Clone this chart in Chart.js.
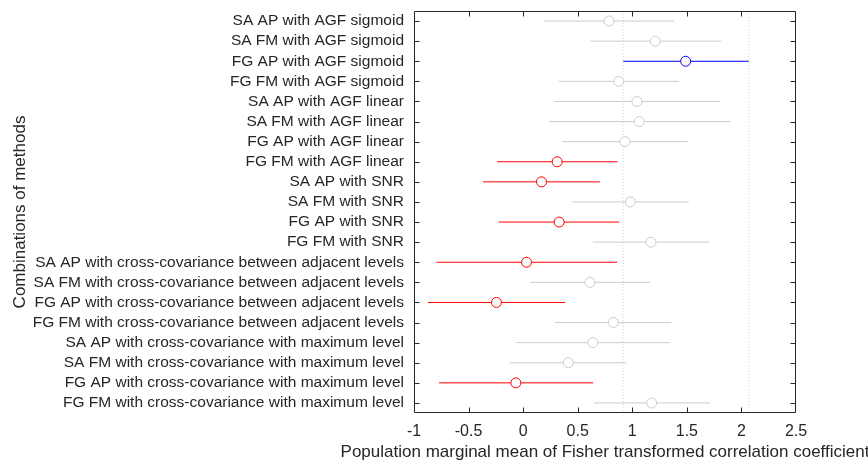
<!DOCTYPE html>
<html>
<head>
<meta charset="utf-8">
<script src="https://cdn.jsdelivr.net/npm/chart.js@4"></script>
<style>
  html, body { margin: 0; padding: 0; background: #ffffff; }
  #wrap { width: 868px; height: 464px; }
</style>
</head>
<body>
<div id="wrap"><canvas id="c" width="868" height="464"></canvas></div>
<script>
// Combinations of methods, top to bottom
const methods = [
  'SA AP with AGF sigmoid',
  'SA FM with AGF sigmoid',
  'FG AP with AGF sigmoid',
  'FG FM with AGF sigmoid',
  'SA AP with AGF linear',
  'SA FM with AGF linear',
  'FG AP with AGF linear',
  'FG FM with AGF linear',
  'SA AP with SNR',
  'SA FM with SNR',
  'FG AP with SNR',
  'FG FM with SNR',
  'SA AP with cross-covariance between adjacent levels',
  'SA FM with cross-covariance between adjacent levels',
  'FG AP with cross-covariance between adjacent levels',
  'FG FM with cross-covariance between adjacent levels',
  'SA AP with cross-covariance with maximum level',
  'SA FM with cross-covariance with maximum level',
  'FG AP with cross-covariance with maximum level',
  'FG FM with cross-covariance with maximum level'
];

// Population marginal means and comparison interval bounds
const means = [0.786, 1.211, 1.489, 0.875, 1.043, 1.064, 0.933, 0.312, 0.168, 0.982,
               0.330, 1.171, 0.031, 0.612, -0.245, 0.826, 0.639, 0.413, -0.067, 1.177];
const lower = [0.186, 0.615, 0.917, 0.324, 0.284, 0.239, 0.358, -0.239, -0.367, 0.450,
               -0.223, 0.639, -0.795, 0.064, -0.872, 0.290, -0.064, -0.125, -0.771, 0.645];
const upper = [1.385, 1.814, 2.067, 1.428, 1.807, 1.899, 1.508, 0.865, 0.703, 1.517,
               0.881, 1.706, 0.862, 1.165, 0.385, 1.358, 1.346, 0.945, 0.642, 1.713];

// Group picked for the comparison
const selected = 2;

const xTicks = [-1, -0.5, 0, 0.5, 1, 1.5, 2, 2.5];

const xTitle = 'Population marginal mean of Fisher transformed correlation coefficient';
const yTitle = 'Combinations of methods';

const INK = '#262626';
const FONT = "'Liberation Sans', Arial, Helvetica, sans-serif";

// Blue = selected group, red = significantly different from it, grey = not
function groupColor(i) {
  if (i === selected) return '#0000ff';
  if (upper[i] < lower[selected] || lower[i] > upper[selected]) return '#ff0000';
  return '#cccccc';
}

const datasets = [];

// Group means as open circles, on top of everything
datasets.push({
  type: 'scatter',
  order: 0,
  data: means.map((m, i) => ({ x: m, y: i + 1 })),
  pointRadius: 5,
  pointHoverRadius: 5,
  pointBorderWidth: 1,
  pointBackgroundColor: '#ffffff',
  pointBorderColor: means.map((m, i) => groupColor(i)),
  showLine: false
});

// Comparison intervals
methods.forEach((name, i) => {
  datasets.push({
    type: 'scatter',
    order: 1,
    data: [{ x: lower[i], y: i + 1 }, { x: upper[i], y: i + 1 }],
    showLine: true,
    borderColor: groupColor(i),
    borderWidth: 1,
    pointRadius: 0,
    pointHoverRadius: 0
  });
});

// Dotted guides at the bounds of the selected interval
[lower[selected], upper[selected]].forEach(v => {
  datasets.push({
    type: 'scatter',
    order: 2,
    data: [{ x: v, y: 0.5 }, { x: v, y: methods.length + 0.5 }],
    showLine: true,
    borderColor: '#d4d4d4',
    borderWidth: 1,
    borderDash: [1, 2],
    pointRadius: 0,
    pointHoverRadius: 0
  });
});

// Box around the plot with inward tick marks on all four sides,
// plus the x-axis title centred under the plot
const boxTicks = {
  id: 'boxTicks',
  afterDatasetsDraw(chart) {
    const { ctx, chartArea: a, scales } = chart;
    const L = Math.round(a.left) + 0.5, R = Math.round(a.right) - 0.5;
    const T = Math.round(a.top) + 0.5, B = Math.round(a.bottom) - 0.5;
    const len = 5;
    ctx.save();
    ctx.strokeStyle = INK;
    ctx.lineWidth = 1;
    ctx.beginPath();
    ctx.rect(L, T, R - L, B - T);
    scales.x.ticks.forEach(t => {
      const px = Math.round(scales.x.getPixelForValue(t.value)) + 0.5;
      if (px <= L + 1 || px >= R - 1) return;
      ctx.moveTo(px, B); ctx.lineTo(px, B - len);
      ctx.moveTo(px, T); ctx.lineTo(px, T + len);
    });
    scales.y.ticks.forEach(t => {
      const py = Math.round(scales.y.getPixelForValue(t.value)) + 0.5;
      ctx.moveTo(L, py); ctx.lineTo(L + len, py);
      ctx.moveTo(R, py); ctx.lineTo(R - len, py);
    });
    ctx.stroke();

    ctx.fillStyle = INK;
    ctx.font = '17px ' + FONT;
    ctx.textAlign = 'center';
    ctx.textBaseline = 'alphabetic';
    ctx.fillText(xTitle, (a.left + a.right) / 2, 457);
    ctx.restore();
  }
};

new Chart(document.getElementById('c'), {
  type: 'scatter',
  data: { datasets },
  plugins: [boxTicks],
  options: {
    responsive: false,
    animation: false,
    events: [],
    layout: { padding: { left: 0, right: 72, top: 11, bottom: 0 } },
    plugins: { legend: { display: false }, tooltip: { enabled: false } },
    scales: {
      x: {
        type: 'linear',
        min: -1,
        max: 2.5,
        afterBuildTicks: s => { s.ticks = xTicks.map(v => ({ value: v })); },
        afterFit: s => { s.height = 51; s.paddingLeft = 0; s.paddingRight = 0; },
        grid: { display: false, drawTicks: false },
        border: { display: false },
        ticks: {
          color: INK,
          font: { family: FONT, size: 16 },
          padding: 9,
          maxRotation: 0,
          autoSkip: false,
          callback: v => String(v)
        },
        title: { display: false }
      },
      y: {
        type: 'linear',
        reverse: true,
        min: 0.5,
        max: methods.length + 0.5,
        afterBuildTicks: s => { s.ticks = methods.map((m, i) => ({ value: i + 1 })); },
        afterFit: s => { s.width = 414; s.paddingTop = 0; s.paddingBottom = 0; },
        grid: { display: false, drawTicks: false },
        border: { display: false },
        ticks: {
          color: INK,
          font: { family: FONT, size: 15.5 },
          padding: 10,
          autoSkip: false,
          callback: v => methods[v - 1]
        },
        title: {
          display: true,
          text: yTitle,
          color: INK,
          font: { family: FONT, size: 17 },
          padding: { top: 10, bottom: 0 }
        }
      }
    }
  }
});
</script>
</body>
</html>
